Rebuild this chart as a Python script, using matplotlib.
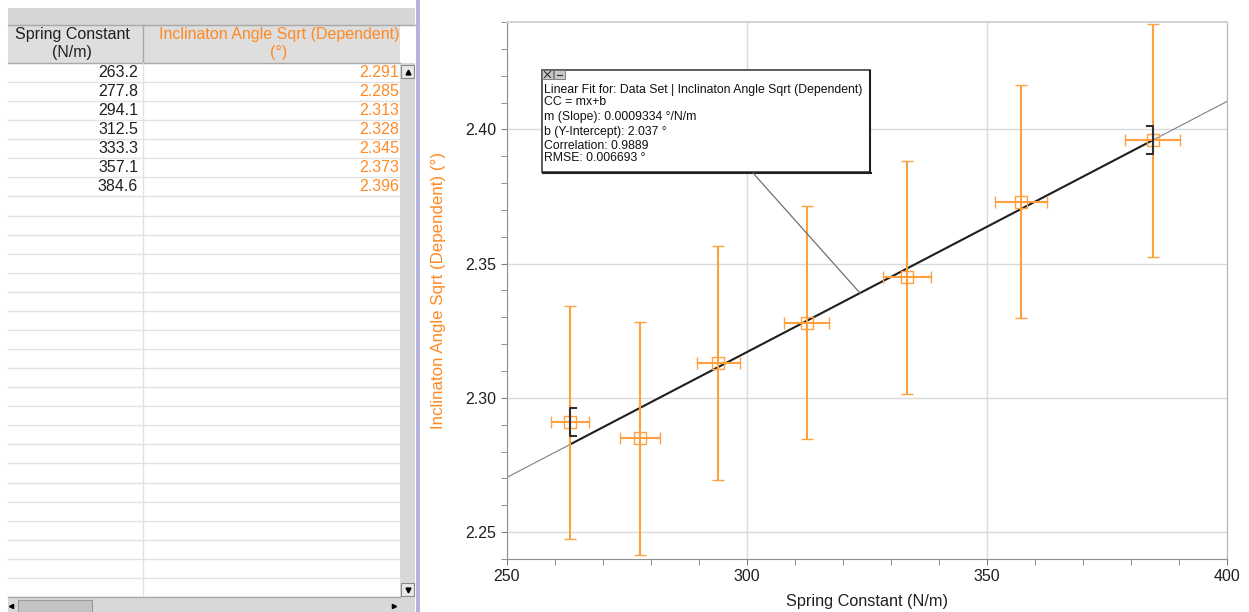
import numpy as np
import matplotlib.pyplot as plt
from matplotlib.patches import Rectangle
from matplotlib.ticker import MultipleLocator

plt.rcParams["font.family"] = ["Liberation Sans", "DejaVu Sans"]

# data from the table
spring_k = [263.2, 277.8, 294.1, 312.5, 333.3, 357.1, 384.6]
angle_sqrt = [2.291, 2.285, 2.313, 2.328, 2.345, 2.373, 2.396]
k_err = [3.95, 4.17, 4.41, 4.69, 5.0, 5.36, 5.77]
angle_err = [0.0434, 0.0434, 0.0434, 0.0434, 0.0434, 0.0434, 0.0434]

# linear fit result
slope = 0.0009334
intercept = 2.037
fit_lines = ["Linear Fit for: Data Set | Inclinaton Angle Sqrt (Dependent)",
             "CC = mx+b",
             "m (Slope): 0.0009334 \u00b0/N/m",
             "b (Y-Intercept): 2.037 \u00b0",
             "Correlation: 0.9889",
             "RMSE: 0.006693 \u00b0"]

col_names = [["Spring Constant", "(N/m)"],
             ["Inclinaton Angle Sqrt (Dependent)", "(\u00b0)"]]

ORANGE_TXT = "#ff8a24"
ORANGE = "#ffa040"
W, H = 1249, 612

fig = plt.figure(figsize=(W / 100, H / 100), dpi=100)

# ---------------- table (pixel coords) ----------------
tb = fig.add_axes([0, 0, 420 / W, 1])
tb.set_xlim(0, 420)
tb.set_ylim(H, 0)
tb.axis("off")

tb.add_patch(Rectangle((8, 8), 407, 17, facecolor="#d6d6d6", edgecolor="none"))
tb.add_patch(Rectangle((8, 25), 392, 38, facecolor="#dedede", edgecolor="none"))
tb.plot([8, 415], [25, 25], color="#a8a8a8", lw=1)
tb.plot([8, 400], [63, 63], color="#a8a8a8", lw=1)
tb.plot([143, 143], [25, 63], color="#a8a8a8", lw=1)
tb.plot([143, 143], [63, 597], color="#e2e2e2", lw=1)

row_h = 19.07
for i in range(28):
    y = 63 + row_h * (i + 1)
    if y < 597:
        tb.plot([8, 400], [y, y], color="#e2e2e2", lw=1)

tb.text(72, 35, col_names[0][0], ha="center", va="center", fontsize=11.5, color="#202020")
tb.text(72, 53, col_names[0][1], ha="center", va="center", fontsize=11.5, color="#202020")
tb.text(279, 35, col_names[1][0], ha="center", va="center", fontsize=11.5, color=ORANGE_TXT)
tb.text(279, 53, col_names[1][1], ha="center", va="center", fontsize=11.5, color=ORANGE_TXT)

for i, (k, a) in enumerate(zip(spring_k, angle_sqrt)):
    yc = 63 + row_h * (i + 0.5)
    tb.text(138, yc, f"{k:.1f}", ha="right", va="center", fontsize=11.5, color="#202020")
    tb.text(399, yc, f"{a:.3f}", ha="right", va="center", fontsize=11.5, color=ORANGE_TXT)

# vertical scrollbar
tb.add_patch(Rectangle((400, 63), 15, 534, facecolor="#d8d8d8", edgecolor="none"))
tb.add_patch(Rectangle((401, 65), 13, 13, facecolor="#e8e8e8", edgecolor="#8a8a8a", lw=0.8))
tb.add_patch(Rectangle((401, 583), 13, 13, facecolor="#e8e8e8", edgecolor="#8a8a8a", lw=0.8))
tb.plot([407.5], [71.5], marker="^", ms=3.5, color="black")
tb.plot([407.5], [589.5], marker="v", ms=3.5, color="black")
# horizontal scrollbar
tb.add_patch(Rectangle((8, 597), 407, 15, facecolor="#d8d8d8", edgecolor="none"))
tb.plot([8, 400], [597, 597], color="#a8a8a8", lw=1)
tb.add_patch(Rectangle((18, 600), 74, 12, facecolor="#c4c4c4", edgecolor="#9a9a9a", lw=0.8))
tb.plot([11], [606], marker="<", ms=3, color="black")
tb.plot([394], [606], marker=">", ms=3, color="black")
# divider
tb.add_patch(Rectangle((416, 0), 4, H, facecolor="#b4b4dc", edgecolor="none"))

# ---------------- graph ----------------
ax = fig.add_axes([506.7 / W, (H - 559) / H, 720 / W, 537 / H])
ax.set_xlim(250, 400)
ax.set_ylim(2.24, 2.44)
ax.xaxis.set_major_locator(MultipleLocator(50))
ax.xaxis.set_minor_locator(MultipleLocator(10))
ax.yaxis.set_major_locator(MultipleLocator(0.05))
ax.yaxis.set_minor_locator(MultipleLocator(0.01))
ax.yaxis.set_major_formatter(plt.FormatStrFormatter("%.2f"))
ax.grid(True, which="major", color="#dadada", lw=1)
ax.set_axisbelow(True)
ax.tick_params(which="both", direction="out", length=4, color="#808080",
               labelsize=11.5, labelcolor="#202020")
for side in ["left", "bottom"]:
    ax.spines[side].set_color("#909090")
ax.spines["right"].set_color("#b4b4b4")
ax.spines["top"].set_color("#d4d4d4")
ax.spines["top"].set_linewidth(1.5)

xs = np.array(ax.get_xlim())
ax.plot(xs, slope * xs + intercept, color="#808080", lw=0.8, zorder=2)
xr = np.array([spring_k[0], spring_k[-1]])
ax.plot(xr, slope * xr + intercept, color="#202020", lw=1.5, zorder=3)

ax.errorbar(spring_k, angle_sqrt, xerr=k_err, yerr=angle_err, fmt="s", ms=8.5,
            mfc="none", mec=ORANGE, mew=1, ecolor=ORANGE, elinewidth=1.5,
            capsize=4, capthick=1.5, zorder=4)

# range brackets
bh = 0.0052
bw = 1.2
for x0, y0, d in [(spring_k[0], angle_sqrt[0], 1), (spring_k[-1], angle_sqrt[-1], -1)]:
    ax.plot([x0 + d * bw, x0, x0, x0 + d * bw], [y0 + bh, y0 + bh, y0 - bh, y0 - bh],
            color="#303030", lw=1.5, zorder=5)

ax.set_xlabel("Spring Constant (N/m)", fontsize=11.7, color="#202020")
ax.xaxis.set_label_coords(0.5, -0.065)
ax.set_ylabel("Inclinaton Angle Sqrt (Dependent) (\u00b0)", fontsize=12.2, color=ORANGE_TXT)
ax.yaxis.set_label_coords(-0.085, 0.5)

# ---------------- fit info box (pixel coords) ----------------
ov = fig.add_axes([0, 0, 1, 1], facecolor="none")
ov.set_xlim(0, W)
ov.set_ylim(H, 0)
ov.axis("off")

ov.add_patch(Rectangle((542, 70), 328, 102, facecolor="white", edgecolor="#404040", lw=1.2))
ov.plot([870.5, 870.5], [71, 173], color="#202020", lw=1.5)
ov.plot([543, 871], [172.5, 172.5], color="#202020", lw=1.5)
ov.add_patch(Rectangle((542, 70), 11, 9, facecolor="#c8c8c8", edgecolor="#707070", lw=0.6))
ov.add_patch(Rectangle((554, 70), 11, 9, facecolor="#c8c8c8", edgecolor="#707070", lw=0.6))
ov.plot([544.5, 550.5], [71.5, 77.5], color="#303030", lw=0.8)
ov.plot([544.5, 550.5], [77.5, 71.5], color="#303030", lw=0.8)
ov.plot([557, 562], [74.5, 74.5], color="#303030", lw=0.8)

line_y = [90, 102, 117, 132, 146, 158]
for s, yy in zip(fit_lines, line_y):
    ov.text(544, yy, s, ha="left", va="center", fontsize=8.8, color="#111111")

xc = 323.6
ov.annotate("", xy=(xc, slope * xc + intercept), xycoords=ax.transData,
            xytext=(753, 173), textcoords="data",
            arrowprops=dict(arrowstyle="-", color="#707070", lw=0.9,
                            shrinkA=0, shrinkB=0))

fig.savefig("out.png", dpi=100)
